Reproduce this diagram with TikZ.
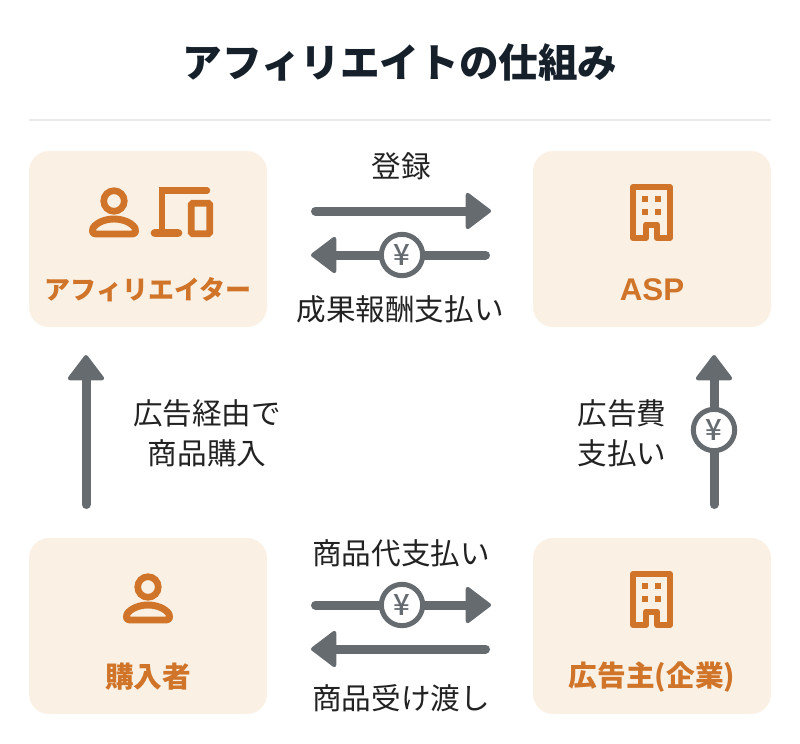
\documentclass[tikz,border=0pt]{standalone}
\usepackage{fontspec}
\setmainfont{Noto Sans CJK JP}
\newfontfamily\latinbold{Liberation Sans}[BoldFont={Liberation Sans Bold}]
\newfontfamily\yenfont{Noto Sans CJK JP Medium}
\usetikzlibrary{arrows.meta}

\definecolor{boxfill}{HTML}{FAF1E4}
\definecolor{iconorange}{HTML}{CF7428}
\definecolor{arrowgray}{HTML}{666B70}
\definecolor{titleink}{HTML}{15202B}
\definecolor{ruleline}{HTML}{E8E9EA}
\definecolor{labelink}{HTML}{222222}

\tikzset{
  card/.style={fill=boxfill,rounded corners=15pt,minimum width=178.5pt,minimum height=132pt,inner sep=0pt},
  cardlabel/.style={text=iconorange,font=\bfseries\fontsize{21.5pt}{25pt}\selectfont,inner sep=0pt},
  flowlabel/.style={text=labelink,font=\fontsize{22.2pt}{26pt}\selectfont,inner sep=0pt},
  flow/.style={draw=arrowgray,line width=6.75pt,line cap=round,
    -{Triangle[round,line width=3pt,length=20pt,width=29.5pt]}},
  yen/.style={circle,draw=arrowgray,fill=white,line width=3.75pt,minimum size=31pt,inner sep=0pt,
    text=arrowgray,font=\yenfont\fontsize{22pt}{24pt}\selectfont},
  personicon/.pic={
    \draw[iconorange,line width=5pt] (0,0) circle (7.7pt);
    \draw[iconorange,line width=5.2pt,line join=round] (-18,33) -- (18,33)
      .. controls (22,33) and (22.5,29) .. (21,27)
      .. controls (17,21) and (8,18) .. (0,18)
      .. controls (-8,18) and (-17,21) .. (-21,27)
      .. controls (-22.5,29) and (-22,33) .. (-18,33) -- cycle;
  },
  buildingicon/.pic={
    \draw[iconorange,line width=4.5pt,line join=round] (-18.5,25.5) -- (-18.5,-25.5) -- (18.5,-25.5) -- (18.5,25.5)
      -- (5.5,25.5) -- (5.5,12) -- (-5.5,12) -- (-5.5,25.5) -- cycle;
    \foreach \wx in {-6.4,6.4} {
      \foreach \wy in {-13.2,-0.3} {
        \fill[iconorange] (\wx-3,\wy-3) rectangle (\wx+3,\wy+3);
      }
    }
  }
}

\begin{document}
\begin{tikzpicture}[x=0.75pt,y=-0.75pt]
    \useasboundingbox (0,0) rectangle (800,743);
    % title and rule
    \node[text=titleink,font=\bfseries\fontsize{29.7pt}{33pt}\selectfont,inner sep=0pt] (title) at (400,62) {アフィリエイトの仕組み};
    \coordinate (ruleL) at (29,120);
    \coordinate (ruleR) at (771,120);
    \draw[ruleline,line width=1.5pt] (ruleL) -- (ruleR);
    % cards
    \node[card] (affiliate) at (148,239) {};
    \node[card] (asp) at (652,239) {};
    \node[card] (buyer) at (148,626) {};
    \node[card] (company) at (652,626) {};
    \node[cardlabel,font=\bfseries\fontsize{19.5pt}{24pt}\selectfont] (affiliatetext) at (148,290) {アフィリエイター};
    \node[cardlabel,font=\latinbold\bfseries\fontsize{23.5pt}{26pt}\selectfont] (asptext) at (652,290) {ASP};
    \node[cardlabel] (buyertext) at (148,677) {購入者};
    \node[cardlabel] (companytext) at (652,677) {広告主(企業)};
    % icons
    \pic at (114,201) {personicon};
    \pic at (148,587) {personicon};
    \pic at (651.5,212.5) {buildingicon};
    \pic at (651.5,599.5) {buildingicon};
    \draw[iconorange,line width=4.8pt,line cap=round] (207,190.5) -- (162,190.5) -- (162,233);
    \draw[iconorange,line width=6.5pt,line cap=round] (155,233) -- (178,233);
    \draw[iconorange,line width=5pt,rounded corners=1pt] (191.3,203.3) rectangle (209.7,233.7);
    % arrows
    \foreach \name/\xa/\ya/\xb/\yb in {reg/315.5/211/491/211, pay/485.5/255/311/255,
        via/86/504.5/86/355, fee/714/504.5/714/355, buy/315.5/605/491/605, give/485.5/649/311/649} {
      \coordinate (\name a) at (\xa,\ya);
      \coordinate (\name b) at (\xb,\yb);
      \draw[flow] (\name a) -- (\name b);
    }
    \node[yen] (yenpay) at (402,255) {¥};
    \node[yen] (yenfee) at (714,430) {¥};
    \node[yen] (yenbuy) at (402,605) {¥};
    % labels
    \node[flowlabel] (reglabel) at (401,166) {登録};
    \node[flowlabel] (paylabel) at (400,309) {成果報酬支払い};
    \node[flowlabel] (vialabela) at (207,413) {広告経由で};
    \node[flowlabel] (vialabelb) at (207,453) {商品購入};
    \node[flowlabel] (feelabela) at (622,413) {広告費};
    \node[flowlabel] (feelabelb) at (622,453) {支払い};
    \node[flowlabel] (buylabel) at (401,553) {商品代支払い};
    \node[flowlabel] (givelabel) at (401,698) {商品受け渡し};
  \end{tikzpicture}
\end{document}
